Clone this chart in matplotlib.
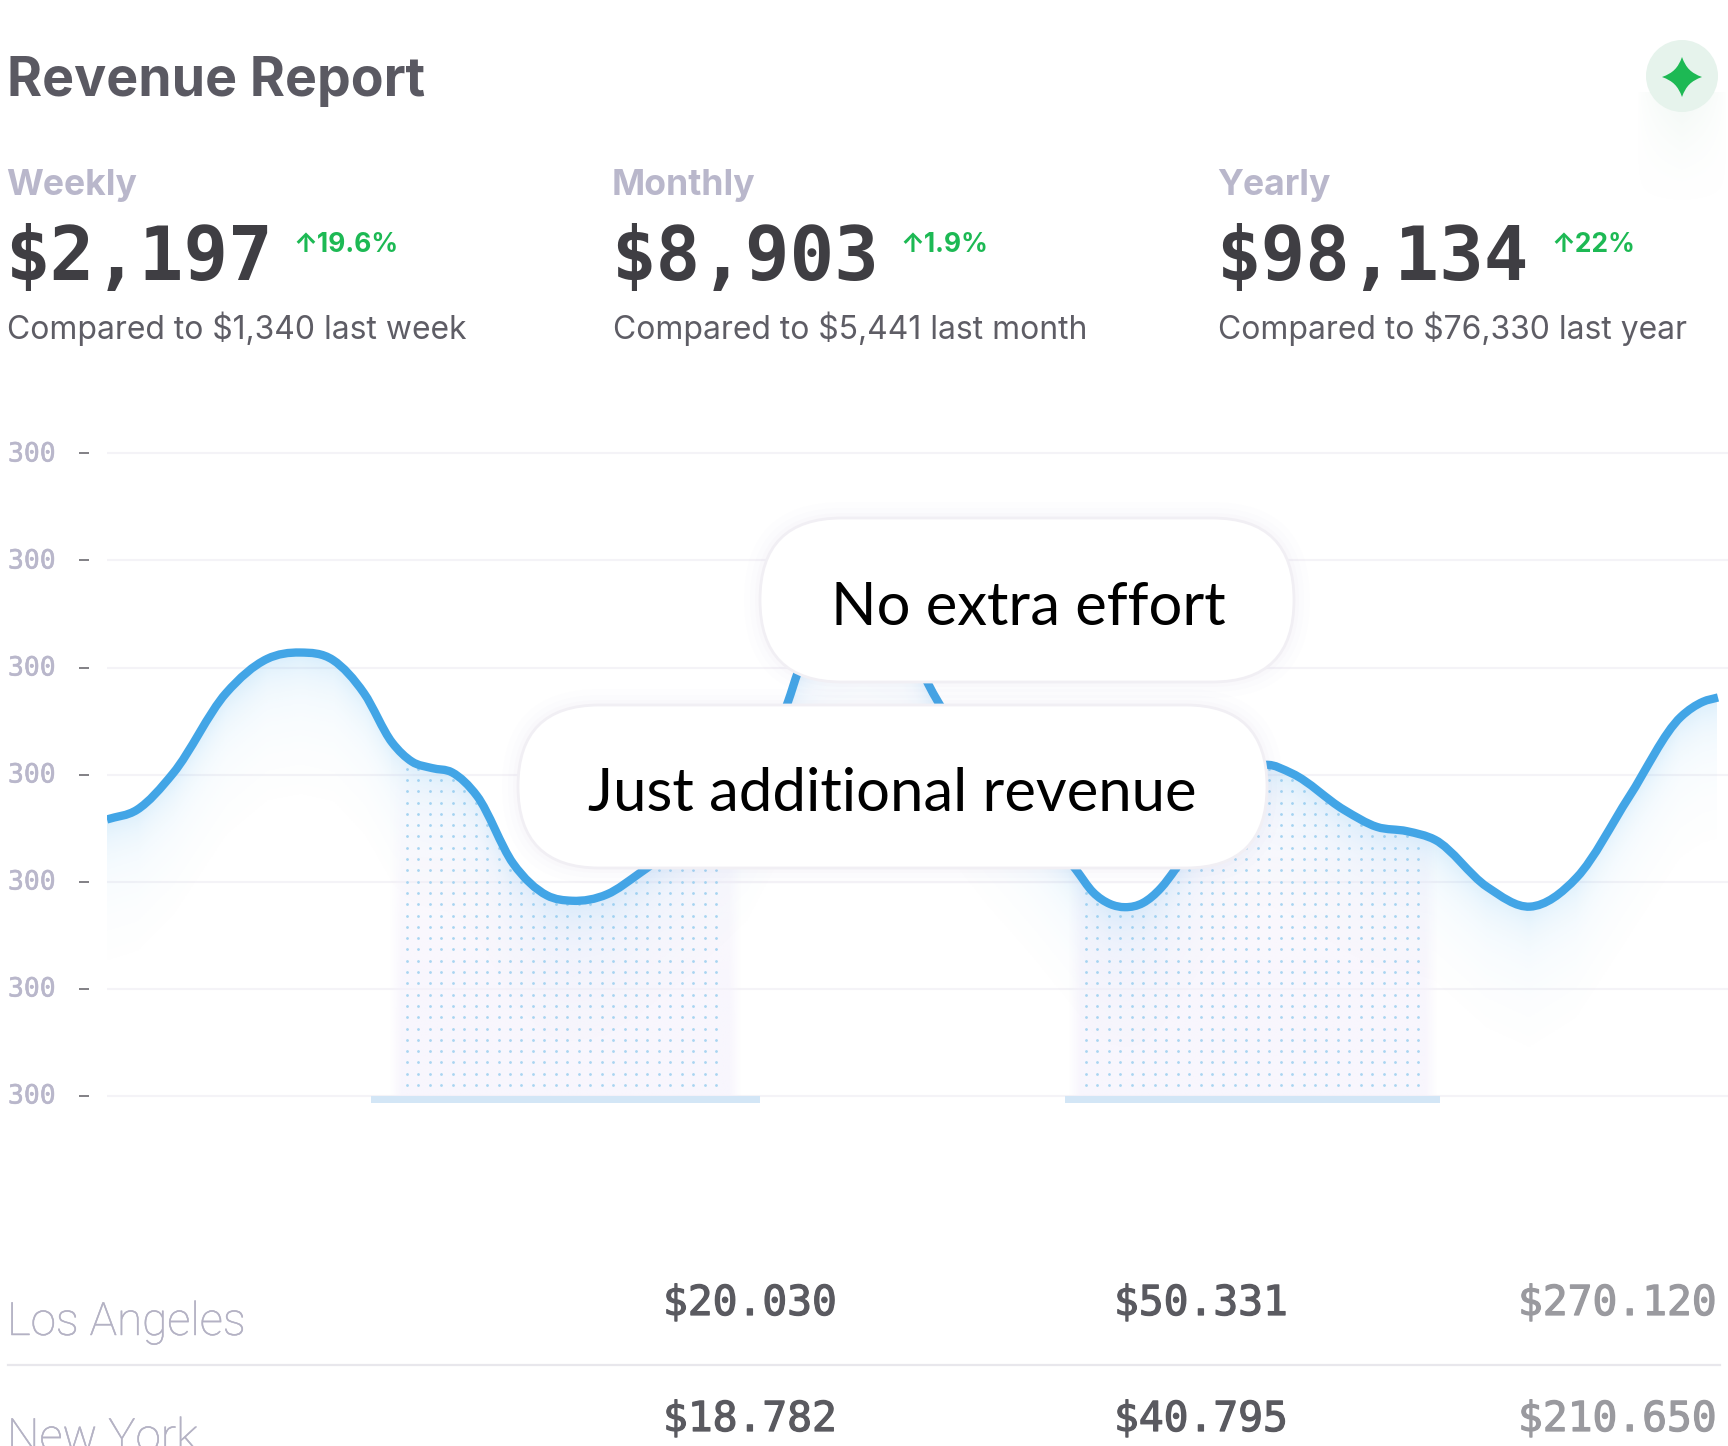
import numpy as np
import matplotlib
matplotlib.use("Agg")
import matplotlib.pyplot as plt
import matplotlib.patheffects as pe
from matplotlib.patches import FancyBboxPatch, PathPatch, Circle
from matplotlib.path import Path
from matplotlib.transforms import Affine2D

# header cards
periods = ["Weekly", "Monthly", "Yearly"]
amounts = ["$2,197", "$8,903", "$98,134"]
changes = ["19.6%", "1.9%", "22%"]
compared = ["Compared to $1,340 last week", "Compared to $5,441 last month", "Compared to $76,330 last year"]

# chart, x is px from the left of the plot, y is in grid rows
curve_x = [0, 30, 66, 119, 160, 193, 226, 257, 285, 305, 325, 345, 370, 406, 440, 465, 500, 533, 590, 640, 681,
           691, 720, 756, 795, 821, 831, 880, 925, 969, 986, 1003, 1018, 1036, 1054, 1068, 1100, 1130, 1159,
           1185, 1237, 1270, 1300, 1328, 1380, 1423, 1470, 1522, 1574, 1596, 1611]
curve_y = [2.58, 2.67, 3.01, 3.76, 4.08, 4.14, 4.07, 3.76, 3.30, 3.12, 3.06, 3.02, 2.80, 2.17, 1.87, 1.82, 1.88,
           2.08, 2.50, 2.95, 3.68, 3.96, 4.45, 4.62, 4.45, 3.85, 3.68, 3.10, 2.62, 2.11, 1.90, 1.79, 1.76,
           1.80, 1.94, 2.11, 2.60, 2.95, 3.09, 3.01, 2.67, 2.51, 2.47, 2.39, 1.95, 1.765, 2.04, 2.79, 3.54,
           3.68, 3.72]
grid_levels = [0, 1, 2, 3, 4, 5, 6]
tick_labels = ["300", "300", "300", "300", "300", "300", "300"]
bar_starts = [264, 958]
bar_ends = [653, 1333]
band_starts = [282, 961]
band_ends = [635, 1331]

# table under the chart
cities = ["Los Angeles", "New York"]
col_1 = ["$20.030", "$18.782"]
col_2 = ["$50.331", "$40.795"]
col_3 = ["$270.120", "$210.650"]

pills = ["No extra effort", "Just additional revenue"]

BLUE = "#42a5e6"
GREEN = "#1db954"
LILAC = "#b9b7cb"
W, H = 1728, 1446
PLOT_LEFT = 107
ROW = 107
BASE = 1095.5
PLOT_TOP, PLOT_BOTTOM = 440, 1115


def smooth_path(xs, ys):
    # cubic through the read points, slopes taken from the neighbours
    xs = np.array(xs, dtype=float)
    ys = np.array(ys, dtype=float)
    slopes = np.gradient(ys, xs)
    verts = [(xs[0], ys[0])]
    codes = [Path.MOVETO]
    for i in range(len(xs) - 1):
        step = (xs[i + 1] - xs[i]) / 3
        verts.append((xs[i] + step, ys[i] + slopes[i] * step))
        verts.append((xs[i + 1] - step, ys[i + 1] - slopes[i + 1] * step))
        verts.append((xs[i + 1], ys[i + 1]))
        codes += [Path.CURVE4, Path.CURVE4, Path.CURVE4]
    return Path(np.array(verts), codes)


fig = plt.figure(figsize=(W / 100, H / 100), dpi=100, facecolor="white")

# ---- chart ----
ax = fig.add_axes([PLOT_LEFT / W, 1 - PLOT_BOTTOM / H, 1 - PLOT_LEFT / W, (PLOT_BOTTOM - PLOT_TOP) / H])
ax.set_facecolor("none")
y_low = (BASE - PLOT_BOTTOM) / ROW
y_high = (BASE - PLOT_TOP) / ROW

for s in ["top", "right", "bottom"]:
    ax.spines[s].set_visible(False)
ax.spines["left"].set_position(("outward", 13))
ax.spines["left"].set_visible(False)
ax.set_xticks([])
ax.set_yticks(grid_levels, tick_labels)
ax.tick_params(axis="y", length=7, width=1.3, color="#77767c", pad=17, labelcolor=LILAC, labelsize=19)
for lab in ax.get_yticklabels():
    lab.set_family("DejaVu Sans Mono")
    lab.set_path_effects([pe.withStroke(linewidth=0.4, foreground=LILAC)])
    lab.set_transform(lab.get_transform() + Affine2D().translate(0, 2))
ax.grid(axis="y", color="#f4f3f7", lw=1.5, zorder=0)
ax.set_axisbelow(True)

line_path = smooth_path(curve_x, curve_y)
under = Path(
    np.vstack([line_path.vertices, [[curve_x[-1], -0.2], [curve_x[0], -0.2], [curve_x[0], curve_y[0]]]]),
    list(line_path.codes) + [Path.LINETO, Path.LINETO, Path.CLOSEPOLY],
)

# lilac bands behind the dots, soft edges
for x0, x1 in zip(band_starts, band_ends):
    n = 200
    xx = np.linspace(x0, x1, n)
    edge = np.clip((xx - x0) / 12, 0, 1) * np.clip((x1 - xx) / 12, 0, 1)
    yy = np.linspace(0, 1, 100)
    rgba = np.zeros((100, n, 4))
    rgba[..., :3] = matplotlib.colors.to_rgb("#f4f0fc")
    rgba[..., 3] = np.outer(np.clip(1.05 - yy ** 2, 0, 1) * 0.6, edge)
    im = ax.imshow(rgba, extent=[x0, x1, 0, 3.2], origin="lower", aspect="auto", zorder=1)
    im.set_clip_path(under, transform=ax.transData)

# dotted pattern inside the bands
for x0, x1 in zip(band_starts, band_ends):
    dx = np.arange(x0 + 18, x1 - 16, 11.45)
    dy = np.arange(0.098, 4, 11.3 / ROW)
    gx, gy = np.meshgrid(dx, dy)
    dots = ax.scatter(gx.ravel(), gy.ravel(), s=4.0, color="#a9d5f1", linewidths=0, zorder=2)
    dots.set_clip_path(under, transform=ax.transData)

ax.bar([(a + b) / 2 for a, b in zip(bar_starts, bar_ends)],
       [-0.07, -0.07],
       width=[b - a for a, b in zip(bar_starts, bar_ends)],
       color="#d3e6f6", linewidth=0, zorder=2)

# glow below the line, one image faded by the distance under the curve
gx = np.arange(0, curve_x[-1] + 1, 2.0)
gy = np.arange(0, 5, 0.02)
below = np.interp(gx, curve_x, curve_y)[None, :] - gy[:, None]
px = np.clip(below * ROW, 0, None)
glow = np.zeros((len(gy), len(gx), 4))
glow[..., :3] = matplotlib.colors.to_rgb("#6bbcf2")
glow[..., 3] = 0.2 * np.exp(-px / 26) + 0.05 * np.clip(1 - px / 150, 0, 1)
im = ax.imshow(glow, extent=[gx[0], gx[-1], gy[0], gy[-1]], origin="lower", aspect="auto", zorder=3)
im.set_clip_path(under, transform=ax.transData)

ax.add_patch(PathPatch(line_path, fc="none", ec=BLUE, lw=6, capstyle="butt", joinstyle="round", zorder=4))
ax.set_xlim(0, W - PLOT_LEFT)
ax.set_ylim(y_low, y_high)

# ---- everything else, in image pixels ----
top = fig.add_axes([0, 0, 1, 1], zorder=5)
top.set_xlim(0, W)
top.set_ylim(H, 0)
top.axis("off")

inter = "Inter"
mono = "DejaVu Sans Mono"
top.text(7, 96, "Revenue Report", family=inter, weight="bold", fontsize=38.6, color="#5a5962", va="baseline")

card_x = [6, 612, 1217]
for i in range(3):
    x = card_x[i]
    top.text(x, 195, periods[i], family=inter, weight="bold", fontsize=25.6, color=LILAC, va="baseline")
    top.text(x - 1, 280, amounts[i], family=mono, weight="bold", fontsize=53.4, color="#3f3e43", va="baseline")
    top.text(x + 1, 339, compared[i], family=inter, fontsize=22.95, color="#5e5d65", va="baseline")

change_x = [293, 900, 1551]
for i in range(3):
    top.text(change_x[i], 252, "↑" + changes[i], family=inter, weight="bold", fontsize=19.0,
             color=GREEN, va="baseline")

# sparkle button
shade = np.zeros((120, 90, 4))
shade[..., :3] = matplotlib.colors.to_rgb("#cfe6d9")
shade[..., 3] = np.outer(np.linspace(0.5, 0, 120) ** 1.8, np.clip(1 - np.abs(np.linspace(-1, 1, 90)), 0, 1) ** 0.7)
top.imshow(shade, extent=[1637, 1727, 212, 92], aspect="auto", zorder=1)
top.set_xlim(0, W)
top.set_ylim(H, 0)
top.add_patch(Circle((1682, 76), 36, fc="#e6f3ec", ec="none", zorder=2))
sx, sy, r = 1682, 77, 20
star = Path(
    [(sx, sy - r), (sx + 4, sy - 9), (sx + 9, sy - 4), (sx + r, sy),
     (sx + 9, sy + 4), (sx + 4, sy + 9), (sx, sy + r),
     (sx - 4, sy + 9), (sx - 9, sy + 4), (sx - r, sy),
     (sx - 9, sy - 4), (sx - 4, sy - 9), (sx, sy - r)],
    [Path.MOVETO] + [Path.CURVE4] * 12,
)
top.add_patch(PathPatch(star, fc=GREEN, ec="none", zorder=3))

# pills over the chart
pill_boxes = [(760, 518, 534, 164), (518, 705, 749, 163)]
pill_text = [(1028, 625), (892, 811)]
for (x, y, w, h), (tx, ty), label in zip(pill_boxes, pill_text, pills):
    for grow, a in [(16, 0.012), (10, 0.014), (5, 0.018)]:
        top.add_patch(FancyBboxPatch((x + h / 2, y + h / 2), w - h, 0,
                                     boxstyle=f"round,pad={h / 2 + grow},rounding_size={h / 2 + grow}",
                                     fc="#a090c8", ec="none", alpha=a, zorder=6))
    top.add_patch(FancyBboxPatch((x + h / 2, y + h / 2), w - h, 0,
                                 boxstyle=f"round,pad={h / 2},rounding_size={h / 2}",
                                 fc="white", ec="#f1eff4", lw=2, zorder=7))
    top.text(tx, ty, label, family="Lato", fontsize=43, color="black", ha="center", va="baseline", zorder=8)

# table
top.plot([8, 1720], [1365, 1365], color="#e8e7ec", lw=1.6)
row_city_y = [1335, 1451]
row_val_y = [1315, 1431]
val_colors = ["#5a5a60", "#5a5a60", "#9a9a9f"]
val_x = [663, 1114, 1518]
for i in range(2):
    top.text(7, row_city_y[i], cities[i], family="Roboto", weight="light", fontsize=33, color="#b4b2c4", va="baseline",
             path_effects=[pe.withStroke(linewidth=0.35, foreground="#b4b2c4")])
    for vals, c, vx in zip([col_1, col_2, col_3], val_colors, val_x):
        top.text(vx, row_val_y[i], vals[i], family=mono, fontsize=29.7, color=c, va="baseline",
                 path_effects=[pe.withStroke(linewidth=0.9, foreground=c)])

fig.savefig("out.png", dpi=100, facecolor="white")
